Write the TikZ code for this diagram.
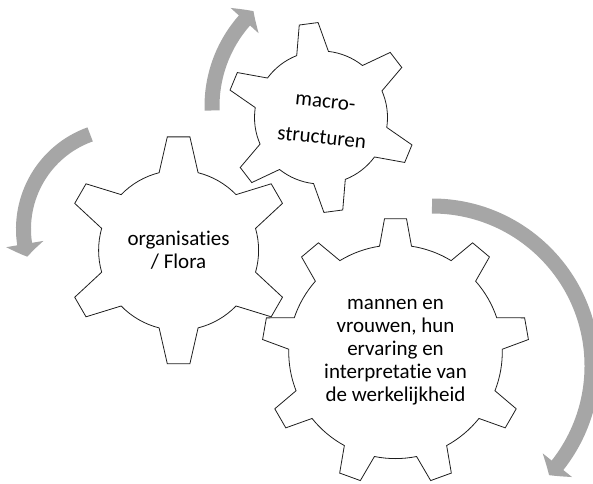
\documentclass[tikz,border=0pt]{standalone}
\usepackage{fontspec}
\setmainfont{Carlito}[RawFeature={-liga}]
\usepackage{tikz}
\usetikzlibrary{arrows.meta}
\usetikzlibrary{bending}

\definecolor{arrowgray}{RGB}{166,166,166}
\definecolor{gearline}{RGB}{30,30,30}

\newcommand{\gear}[7]{%
  \begin{scope}[shift={(#1)}]
    \pgfmathsetmacro\gtip{asin(#6/#4)}
    \pgfmathsetmacro\gbase{asin(#7/#5)}
    \pgfmathsetmacro\gstep{360/#2}
    \draw[gearedge] ({#3-\gbase}:#5)
      \foreach \i in {1,...,#2} {
        -- ({#3+(\i-1)*\gstep-\gtip}:#4) -- ({#3+(\i-1)*\gstep+\gtip}:#4)
        -- ({#3+(\i-1)*\gstep+\gbase}:#5)
        arc[start angle={#3+(\i-1)*\gstep+\gbase}, end angle={#3+\i*\gstep-\gbase}, radius=#5]
      } -- cycle;
  \end{scope}}

\begin{document}
\begin{tikzpicture}[x=1pt,y=1pt,
    gearedge/.style={draw=gearline,line width=0.8pt},
    turn/.style={draw=arrowgray,line width=15pt,-{Triangle[width=37pt,length=13pt,bend]}}]
  \useasboundingbox (0,0) rectangle (593,483);

  \coordinate (g1) at (178.6,232.7);
  \coordinate (g2) at (321,365.5);
  \coordinate (g3) at (395.5,131.2);
  \coordinate (aA) at (432,117);
  \coordinate (aB) at (124,254);
  \coordinate (aC) at (342,376.6);

  \draw[turn] ([shift={(90:160)}]aA) arc[start angle=90,end angle=-43,radius=160];
  \draw[turn] ([shift={(109.7:100.5)}]aB) arc[start angle=109.7,end angle=196,radius=100.5];
  \draw[turn] ([shift={(181.8:130)}]aC) arc[start angle=181.8,end angle=132.9,radius=130];

  \gear{g1}{6}{90}{114}{80}{11.3}{19.5}
  \gear{g2}{6}{97.5}{95}{66.5}{9.5}{16}
  \gear{g3}{9}{90}{133.5}{106.8}{11}{16}

  \begin{scope}[every node/.style={align=center,inner sep=0pt,font=\fontsize{21}{23}\selectfont}]
    \node (orgs) at (g1) {organisaties\\/ Flora};
    \node[rotate=-6] (macro) at (323.5,362) {macro-\\[13pt]structuren};
    \node (people) at (g3) {mannen en\\vrouwen, hun\\ervaring en\\interpretatie van\\de werkelijkheid};
  \end{scope}
\end{tikzpicture}
\end{document}
